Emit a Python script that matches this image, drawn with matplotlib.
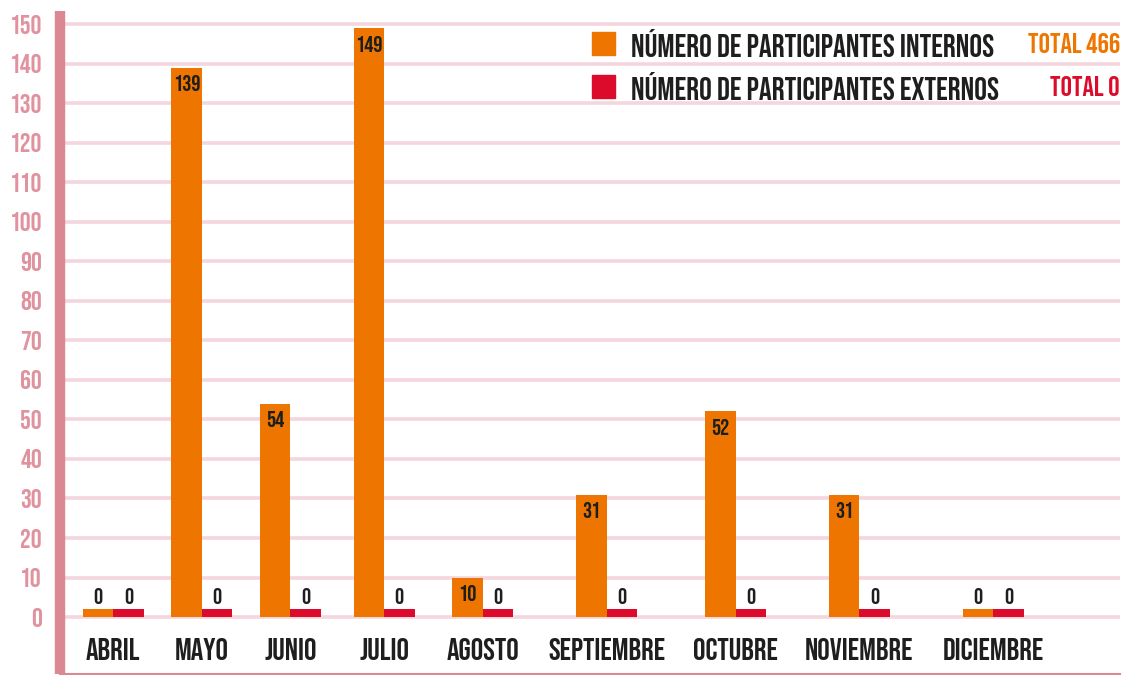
import matplotlib
matplotlib.use("Agg")
import matplotlib.pyplot as plt
from matplotlib.patches import Rectangle
import numpy as np

meses = ["ABRIL", "MAYO", "JUNIO", "JULIO", "AGOSTO", "SEPTIEMBRE",
         "OCTUBRE", "NOVIEMBRE", "DICIEMBRE"]
internos = [0, 139, 54, 149, 10, 31, 52, 31, 0]
externos = [0, 0, 0, 0, 0, 0, 0, 0, 0]
serie_int = "NÚMERO DE PARTICIPANTES INTERNOS"
serie_ext = "NÚMERO DE PARTICIPANTES EXTERNOS"

NARANJA = "#ee7600"
ROJO = "#dc0b2b"
ROSA = "#db8893"
ROSA_TXT = "#e0929e"
GRID = "#f4d6dd"
TXT = "#1e1e1e"
FONT = ["Bebas Neue", "DejaVu Sans"]

plt.rcParams["font.family"] = FONT

# month groups are spaced according to how long their names are
largos = np.array([len(m) for m in meses])
pasos = 1.42 + 0.33 * (largos[:-1] + largos[1:]) / 2
centros = np.concatenate([[0], np.cumsum(pasos)])
w = 1.0

fig = plt.figure(figsize=(11.25, 6.75), dpi=100)
ax = fig.add_axes([60 / 1125, 1 / 675, 1060 / 1125, 663 / 675])
ax.set_xlim(-1.74, 33.0)
ax.set_ylim(-14.4, 153.3)

for v in range(0, 151, 10):
    ax.axhline(v, color=GRID, lw=2.6, zorder=0)

stub = 2  # short base strip so empty months still show a mark
ax.bar(centros - w / 2, internos, w, color=NARANJA, zorder=2)
ax.bar(centros + w / 2, externos, w, color=ROJO, zorder=2)
ax.bar(centros - w / 2, stub, w, color=NARANJA, zorder=2)
ax.bar(centros + w / 2, stub, w, color=ROJO, zorder=2)

fs_val = 16.5
for x, v in zip(centros - w / 2, internos):
    if v >= 10:
        ax.text(x, v - 1.9, str(v), ha="center", va="top", fontsize=fs_val, color=TXT, zorder=3)
    else:
        ax.text(x, stub + 1.3, str(v), ha="center", va="bottom", fontsize=fs_val, color=TXT, zorder=3)
for x, v in zip(centros + w / 2, externos):
    ax.text(x, max(v, stub) + 1.3, str(v), ha="center", va="bottom", fontsize=fs_val, color=TXT, zorder=3)

for x, m in zip(centros, meses):
    ax.text(x, -8.0, m, ha="center", va="center", fontsize=22.5, color=TXT)

ax.set_yticks(range(0, 151, 10))
ax.set_yticklabels([str(v) for v in range(0, 151, 10)], fontsize=19.5, color=ROSA_TXT)
ax.tick_params(axis="y", length=0, pad=13)
ax.set_xticks([])

for s in ["top", "right"]:
    ax.spines[s].set_visible(False)
ax.spines["left"].set_color(ROSA)
ax.spines["left"].set_linewidth(7.5)
ax.spines["left"].set_capstyle("butt")
ax.spines["bottom"].set_color(ROSA)
ax.spines["bottom"].set_linewidth(1.5)

# legend rows with totals
filas = [(serie_int, NARANJA, sum(internos), 43), (serie_ext, ROJO, sum(externos), 86)]
for texto, col, tot, ypx in filas:
    yf = 1 - ypx / 675
    fig.patches.append(Rectangle((592 / 1125, yf - 11.5 / 675), 23 / 1125, 23 / 675,
                                 transform=fig.transFigure, color=col))
    fig.text(631 / 1125, yf, texto, ha="left", va="center", fontsize=23, color=TXT)
    fig.text(1120 / 1125, yf, f"TOTAL {tot}", ha="right", va="center", fontsize=20.5, color=col)

fig.savefig("out.png", dpi=100)
